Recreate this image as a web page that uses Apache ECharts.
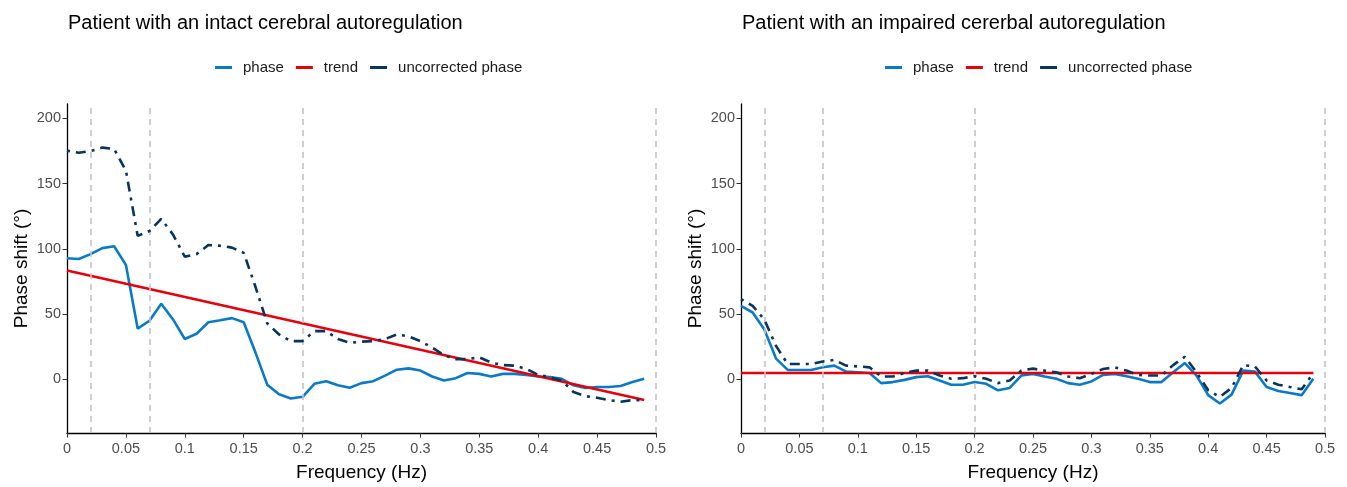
<!DOCTYPE html>
<html>
<head>
<meta charset="utf-8">
<script src="https://cdn.jsdelivr.net/npm/echarts@6/dist/echarts.min.js"></script>
<style>html,body{margin:0;padding:0;background:#fff}#c{width:1347px;height:487px}</style>
</head>
<body>
<div id="c"></div>
<script>
const freq = [0,0.01,0.02,0.03,0.04,0.05,0.06,0.07,0.08,0.09,0.10,0.11,0.12,0.13,0.14,0.15,0.16,0.17,0.18,0.19,0.20,0.21,0.22,0.23,0.24,0.25,0.26,0.27,0.28,0.29,0.30,0.31,0.32,0.33,0.34,0.35,0.36,0.37,0.38,0.39,0.40,0.41,0.42,0.43,0.44,0.45,0.46,0.47,0.48,0.49];

const intactPhase = [92.8,92.3,96,100.6,102,87.8,39,45,58,46,31,35,43.8,45.3,47,43.8,20.6,-4,-11.3,-14.6,-13.3,-3.3,-1.3,-4.5,-6.3,-2.8,-1.3,3,7.5,8.5,6.8,2.3,-0.8,1,5,4.3,2.3,4.3,4.3,3.5,2.3,1.8,0.5,-4.5,-6.5,-5.8,-5.8,-5,-2,0.5];
const intactUncorrected = [175.3,173.6,174.9,177.6,176.6,160,110,113.7,123,111,94,96,103,102.4,101,97,71,43,34.5,29.4,29.4,37,37,31,28,29,29.4,31,34.5,33,29.4,24.4,18.6,15.6,15.6,16.9,13,11,10.6,8,3.5,1.8,-0.8,-9.6,-12.8,-14,-15.8,-17,-15.8,-15.8];
const intactTrendFreq = [0, 0.49];
const intactTrend = [83.5, -15.8];

const impairedPhase = [56.4,51.3,38.2,16,7.3,7.3,7.3,9.3,10.6,6,5.5,5,-2.8,-2,-0.3,1.8,2.5,-0.8,-4,-4,-2,-3.3,-8.3,-6.5,3,4.3,2.3,0.5,-2.8,-4,-1.5,3.5,4.3,2.5,0.5,-2,-2,5.5,12.6,3,-12,-18.4,-11.6,6.8,6,-5.8,-8.8,-10.3,-12,0.5];
const impairedUncorrected = [61.6,56.4,45.8,25.7,11.8,11.8,11.8,13.8,15,10.6,10,9.3,2.3,2.3,5,6.8,6.8,3,0.5,1,2.5,0.5,-2.8,-0.8,6.8,8.3,6.8,5.5,2.3,1,4.3,8,9.3,6.8,3.5,3,3,11,17.4,5.5,-8.3,-13.3,-6.5,11,10,-0.8,-4,-5.8,-7.5,4.8];
const impairedTrendFreq = [0, 0.49];
const impairedTrend = [5, 5];

const bandLines = [0.02, 0.07, 0.2, 0.5];
const xTicks = [0,0.05,0.1,0.15,0.2,0.25,0.3,0.35,0.4,0.45,0.5];
const yTicks = [0,50,100,150,200];
const titles = ['Patient with an intact cerebral autoregulation','Patient with an impaired cererbal autoregulation'];
const seriesNames = ['phase','trend','uncorrected phase'];
const colors = {phase:'#0a7ac7', trend:'#e3000f', unc:'#0a3558'};

const FONT = '"Liberation Sans", Arial, sans-serif';
const zip = (xs, ys) => xs.map((x, i) => [x, ys[i]]);

const panels = [
  {left:67, width:589, phase:intactPhase, unc:intactUncorrected, tf:intactTrendFreq, tv:intactTrend, legendLeft:215},
  {left:741, width:584, phase:impairedPhase, unc:impairedUncorrected, tf:impairedTrendFreq, tv:impairedTrend, legendLeft:885}
];

const option = {
  animation:false,
  backgroundColor:'#fff',
  textStyle:{fontFamily:FONT},
  title: panels.map((p,i)=>({text:titles[i], left:p.left+1, top:13, padding:0,
    textStyle:{fontFamily:FONT, fontSize:20, fontWeight:'normal', color:'#000'}})),
  legend: panels.map((p,i)=>({
    left:p.legendLeft, top:60, padding:0, itemWidth:17, itemHeight:3, itemGap:12, icon:'rect',
    data:seriesNames.map(n=>({name:n})),
    textStyle:{fontFamily:FONT, fontSize:15, color:'#1a1a1a', padding:[0,0,0,6]},
    selectedMode:false
  })),
  grid: panels.map(p=>({left:p.left, width:p.width, top:104, bottom:49, containLabel:false})),
  xAxis: panels.map((p,i)=>({
    type:'value', gridIndex:i, min:0, max:0.5,
    name:'Frequency (Hz)', nameLocation:'middle', nameGap:30,
    nameTextStyle:{fontFamily:FONT, fontSize:19, color:'#000'},
    axisLine:{show:true, onZero:false, lineStyle:{color:'#000', width:1.3}},
    axisTick:{show:true, length:4.5, customValues:xTicks, lineStyle:{color:'#333', width:1}},
    axisLabel:{customValues:xTicks, color:'#4d4d4d', fontSize:14.5, margin:8, fontFamily:FONT},
    splitLine:{show:false}
  })),
  yAxis: panels.map((p,i)=>({
    type:'value', gridIndex:i, min:-41, max:211,
    name:'Phase shift (°)', nameLocation:'middle', nameGap:36, nameRotate:90,
    nameTextStyle:{fontFamily:FONT, fontSize:19, color:'#000'},
    axisLine:{show:true, onZero:false, lineStyle:{color:'#000', width:1.3}},
    axisTick:{show:true, length:4.5, customValues:yTicks, lineStyle:{color:'#333', width:1}},
    axisLabel:{customValues:yTicks, color:'#4d4d4d', fontSize:14.5, margin:6, fontFamily:FONT},
    splitLine:{show:false}
  })),
  series: []
};

panels.forEach((p,i)=>{
  option.series.push({
    name:'phase', type:'line', xAxisIndex:i, yAxisIndex:i, data:zip(freq,p.phase),
    showSymbol:false, color:colors.phase, lineStyle:{color:colors.phase, width:2.6}, z:3,
    markLine:{silent:true, symbol:'none', label:{show:false},
      lineStyle:{color:'#c4c4c4', type:[6,5], width:1.6},
      data:bandLines.map(v=>({xAxis:v}))}
  });
  option.series.push({
    name:'trend', type:'line', xAxisIndex:i, yAxisIndex:i, data:zip(p.tf,p.tv),
    showSymbol:false, color:colors.trend, lineStyle:{color:colors.trend, width:2.6}, z:4
  });
  option.series.push({
    name:'uncorrected phase', type:'line', xAxisIndex:i, yAxisIndex:i, data:zip(freq,p.unc),
    showSymbol:false, color:colors.unc, lineStyle:{color:colors.unc, width:2.6, type:[3,6,10,6]}, z:5
  });
});

const chart = echarts.init(document.getElementById('c'), null, {renderer:'canvas'});
chart.setOption(option);
</script>
</body>
</html>
